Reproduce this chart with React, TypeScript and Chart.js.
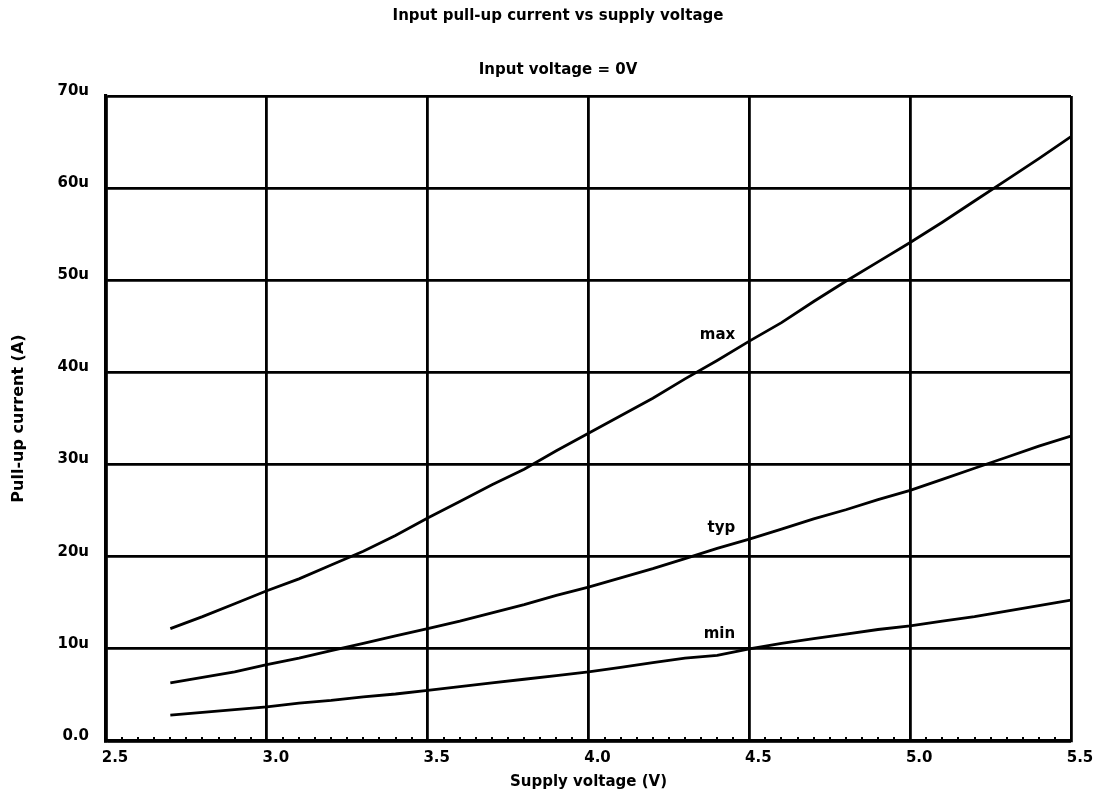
import React, { useEffect, useRef } from "react";
import { Chart, registerables } from "chart.js";

Chart.register(...registerables);

const TITLE = "Input pull-up current vs supply voltage";
const SUBTITLE = "Input voltage = 0V";
const X_TITLE = "Supply voltage (V)";
const Y_TITLE = "Pull-up current (A)";

const voltage = [
  2.7, 2.8, 2.9, 3.0, 3.1, 3.2, 3.3, 3.4, 3.5, 3.6, 3.7, 3.8, 3.9, 4.0, 4.1,
  4.2, 4.3, 4.4, 4.5, 4.6, 4.7, 4.8, 4.9, 5.0, 5.1, 5.2, 5.3, 5.4, 5.5,
];
// values in microamps
const maxCurrent = [
  12.2, 13.5, 14.9, 16.3, 17.6, 19.1, 20.6, 22.3, 24.2, 26.0, 27.8, 29.5, 31.5,
  33.4, 35.3, 37.2, 39.3, 41.3, 43.4, 45.4, 47.7, 49.9, 52.0, 54.1, 56.3, 58.6,
  60.9, 63.2, 65.6,
];
const typCurrent = [
  6.3, 6.9, 7.5, 8.3, 9.0, 9.8, 10.6, 11.4, 12.2, 13.0, 13.9, 14.8, 15.8, 16.7,
  17.7, 18.7, 19.8, 20.9, 21.9, 23.0, 24.1, 25.1, 26.2, 27.2, 28.4, 29.6, 30.8,
  32.0, 33.1,
];
const minCurrent = [
  2.8, 3.1, 3.4, 3.7, 4.1, 4.4, 4.8, 5.1, 5.5, 5.9, 6.3, 6.7, 7.1, 7.5, 8.0,
  8.5, 9.0, 9.3, 10.0, 10.6, 11.1, 11.6, 12.1, 12.5, 13.0, 13.5, 14.1, 14.7,
  15.3,
];

const seriesNames = ["max", "typ", "min"];
// label anchor (right edge x, center y) in data units
const labelX = [4.456, 4.456, 4.456];
const labelY = [44.0, 23.1, 11.6];

const X_MIN = 2.5;
const X_MAX = 5.5;
const X_STEP = 0.5;
const X_MINOR = 0.05;
const Y_MIN = 0;
const Y_MAX = 70;
const Y_STEP = 10;

const FONT = '"DejaVu Sans", "Liberation Sans", sans-serif';

export default function App() {
  const ref = useRef<HTMLCanvasElement | null>(null);

  useEffect(() => {
    if (!ref.current) return;

    const annotations = {
      id: "annotations",
      afterDatasetsDraw(chart: any) {
        const ctx = chart.ctx;
        const xs = chart.scales.x;
        const ys = chart.scales.y;
        const area = chart.chartArea;
        ctx.save();
        // minor ticks on x axis
        ctx.strokeStyle = "#000";
        ctx.lineWidth = 2;
        const n = Math.round((X_MAX - X_MIN) / X_MINOR);
        for (let i = 1; i < n; i++) {
          if (i % 10 === 0) continue;
          const px = Math.round(xs.getPixelForValue(X_MIN + i * X_MINOR));
          ctx.beginPath();
          ctx.moveTo(px, area.bottom);
          ctx.lineTo(px, area.bottom - 4);
          ctx.stroke();
        }
        // series labels
        ctx.fillStyle = "#000";
        ctx.font = `bold 15px ${FONT}`;
        ctx.textAlign = "right";
        ctx.textBaseline = "middle";
        seriesNames.forEach((name, i) => {
          ctx.fillText(name, xs.getPixelForValue(labelX[i]), ys.getPixelForValue(labelY[i]));
        });
        // titles
        ctx.textAlign = "center";
        ctx.fillText(TITLE, 558, 16);
        ctx.fillText(SUBTITLE, 558, 70);
        ctx.restore();
      },
    };

    const mk = (data: number[]) =>
      voltage.map((v, i) => ({ x: v, y: data[i] }));

    const chart = new Chart(ref.current, {
      type: "line",
      data: {
        datasets: [maxCurrent, typCurrent, minCurrent].map((d, i) => ({
          label: seriesNames[i],
          data: mk(d),
          borderColor: "#000",
          borderWidth: 2.8,
          pointRadius: 0,
          tension: 0,
          fill: false,
        })),
      },
      options: {
        animation: false,
        responsive: false,
        devicePixelRatio: 1,
        layout: { padding: { top: 96, right: 31, left: 0, bottom: 0 } },
        plugins: {
          legend: { display: false },
          tooltip: { enabled: false },
          title: { display: false },
        },
        scales: {
          x: {
            type: "linear",
            min: X_MIN,
            max: X_MAX,
            afterFit(scale: any) {
              scale.height = 57;
            },
            ticks: {
              stepSize: X_STEP,
              color: "#000",
              font: { family: FONT, size: 15, weight: "bold" },
              padding: 8,
              labelOffset: 9,
              maxRotation: 0,
              callback: (v: any) => Number(v).toFixed(1),
            },
            grid: {
              color: "#000",
              lineWidth: 2.8,
              drawTicks: false,
            },
            border: { display: true, color: "#000", width: 3.2 },
            title: {
              display: true,
              text: X_TITLE,
              color: "#000",
              font: { family: FONT, size: 15, weight: "bold" },
              padding: { top: 0, bottom: 7 },
            },
          },
          y: {
            type: "linear",
            min: Y_MIN,
            max: Y_MAX,
            afterFit(scale: any) {
              scale.width = 106;
            },
            ticks: {
              stepSize: Y_STEP,
              color: "#000",
              font: { family: FONT, size: 15, weight: "bold" },
              padding: 17,
              labelOffset: -5,
              callback: (v: any) => (Number(v) === 0 ? "0.0" : `${v}u`),
            },
            grid: {
              color: "#000",
              lineWidth: 2.8,
              drawTicks: false,
            },
            border: { display: true, color: "#000", width: 3.2 },
            title: {
              display: true,
              text: Y_TITLE,
              color: "#000",
              font: { family: FONT, size: 16, weight: "bold" },
              padding: { top: 9, bottom: 0 },
            },
          },
        },
      },
      plugins: [annotations],
    });

    return () => chart.destroy();
  }, []);

  return (
    <div
      style={{
        position: "fixed",
        left: 0,
        top: 0,
        width: 1102,
        height: 798,
        background: "#fff",
      }}
    >
      <canvas ref={ref} width={1102} height={798} style={{ width: 1102, height: 798 }} />
    </div>
  );
}
